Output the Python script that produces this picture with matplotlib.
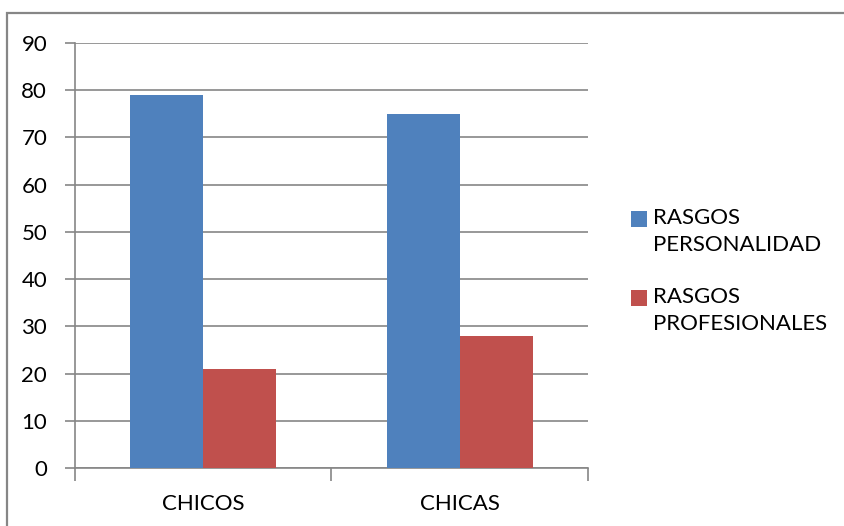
import matplotlib
matplotlib.use("Agg")
import matplotlib.pyplot as plt
from matplotlib.patches import Rectangle
import numpy as np

categories = ["CHICOS", "CHICAS"]
series_names = ["RASGOS\nPERSONALIDAD", "RASGOS\nPROFESIONALES"]
personalidad = [79, 75]
profesionales = [21, 28]
y_ticks = [0, 10, 20, 30, 40, 50, 60, 70, 80, 90]

BLUE = "#4F81BD"
RED = "#C0504D"
GRID = "#868686"
FONT = "Lato"

W, H = 845, 526
fig = plt.figure(figsize=(W / 100, H / 100), dpi=100)
fig.patch.set_facecolor("white")

# outer chart border (cropped at right/bottom)
fig.patches.append(Rectangle((7 / W, -0.1), 1.2, (H - 13) / H + 0.1,
                             transform=fig.transFigure, fill=False,
                             edgecolor=GRID, linewidth=1.6))

ax = fig.add_axes([75 / W, (H - 468) / H, (588 - 75) / W, (468 - 43) / H])
x = np.arange(len(categories))
w = 0.285
ax.bar(x - w / 2, personalidad, width=w, color=BLUE, zorder=3)
ax.bar(x + w / 2, profesionales, width=w, color=RED, zorder=3)

ax.set_xlim(-0.5, len(categories) - 0.5)
ax.set_ylim(0, 90)
ax.set_yticks(y_ticks)
ax.set_yticklabels([str(v) for v in y_ticks], fontsize=16, family=FONT)
ax.yaxis.grid(True, color=GRID, linewidth=1.2, zorder=0)
ax.set_axisbelow(True)

ax.set_xticks(x)
ax.set_xticklabels(categories, fontsize=16, family=FONT)
ax.set_xticks(np.arange(-0.5, len(categories), 1.0), minor=True)
ax.tick_params(axis="x", which="major", length=0, pad=19)
ax.tick_params(axis="x", which="minor", length=9, width=1.2, color=GRID,
               direction="out")
ax.tick_params(axis="y", length=7, width=1.2, color=GRID, pad=13)

for s in ["top", "right"]:
    ax.spines[s].set_visible(False)
for s in ["left", "bottom"]:
    ax.spines[s].set_color(GRID)
    ax.spines[s].set_linewidth(1.2)

# legend drawn beside the plot
leg_items = [(series_names[0], BLUE, 211), (series_names[1], RED, 290)]
for label, col, ytop in leg_items:
    fig.patches.append(Rectangle((631 / W, (H - ytop - 16) / H), 16 / W, 16 / H,
                                 transform=fig.transFigure, facecolor=col,
                                 edgecolor="none"))
    fig.text(653 / W, (H - ytop + 3) / H, label, fontsize=16, family=FONT,
             va="top", ha="left", linespacing=1.45)

fig.savefig("out.png", dpi=100, facecolor="white")
